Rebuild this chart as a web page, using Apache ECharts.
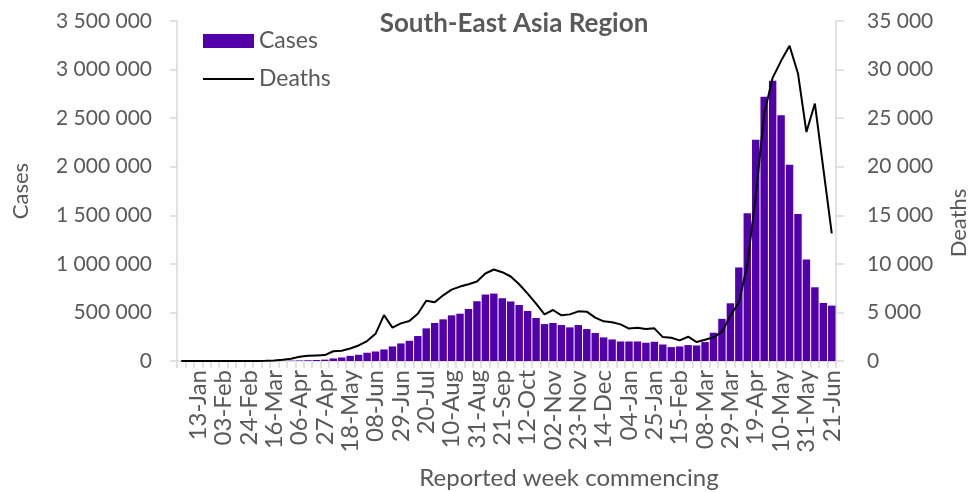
<!DOCTYPE html>
<html>
<head>
<meta charset="utf-8">
<script src="https://cdn.jsdelivr.net/npm/echarts@6/dist/echarts.min.js"></script>
<style>
html, body { margin: 0; padding: 0; background: #fff; }
#chart { width: 978px; height: 492px; }
</style>
</head>
<body>
<div id="chart"></div>
<script>
var weeks = ['30-Dec','06-Jan','13-Jan','20-Jan','27-Jan','03-Feb','10-Feb','17-Feb','24-Feb','02-Mar',
	'09-Mar','16-Mar','23-Mar','30-Mar','06-Apr','13-Apr','20-Apr','27-Apr','04-May','11-May',
	'18-May','25-May','01-Jun','08-Jun','15-Jun','22-Jun','29-Jun','06-Jul','13-Jul','20-Jul',
	'27-Jul','03-Aug','10-Aug','17-Aug','24-Aug','31-Aug','07-Sep','14-Sep','21-Sep','28-Sep',
	'05-Oct','12-Oct','19-Oct','26-Oct','02-Nov','09-Nov','16-Nov','23-Nov','30-Nov','07-Dec',
	'14-Dec','21-Dec','28-Dec','04-Jan','11-Jan','18-Jan','25-Jan','01-Feb','08-Feb','15-Feb',
	'22-Feb','01-Mar','08-Mar','15-Mar','22-Mar','29-Mar','05-Apr','12-Apr','19-Apr','26-Apr',
	'03-May','10-May','17-May','24-May','31-May','07-Jun','14-Jun','21-Jun'];

// weekly cases
var cases = [0,0,0,0,0,0,0,0,0,100,
	300,1000,2000,3000,5000,7000,10000,14000,26000,36000,
	53000,64000,85000,98000,119000,150000,181000,208000,257000,336000,
	391000,429000,470000,487000,536000,615000,684000,694000,646000,613000,
	577000,515000,443000,380000,391000,370000,346000,370000,329000,288000,
	243000,222000,201000,201000,201000,188000,198000,170000,143000,150000,
	164000,160000,195000,291000,434000,594000,963000,1520000,2278000,2719000,
	2884000,2529000,2020000,1513000,1045000,759000,597000,570000];

// weekly deaths
var deaths = [0,0,0,0,0,0,0,0,0,5,
	20,60,130,240,440,530,570,610,1000,1050,
	1290,1600,2050,2800,4720,3430,3870,4120,4870,6210,
	6040,6760,7350,7660,7900,8180,9010,9420,9140,8700,
	7900,6940,5910,4800,5250,4700,4800,5110,5080,4460,
	4080,3980,3770,3340,3430,3290,3360,2460,2390,2120,
	2500,1950,2190,2440,2990,4700,6000,9900,17000,25460,
	29150,30900,32450,29600,23570,26500,19800,13140];

var txt = '#595959';
var fnt = 'Lato';

function spaced(v) {
	return String(v).replace(/\B(?=(\d{3})+(?!\d))/g, ' ');
}

var chart = echarts.init(document.getElementById('chart'));

var option = {
	animation: false,
	textStyle: { fontFamily: fnt },
	title: {
		text: 'South-East Asia Region',
		left: 509,
		textAlign: 'center',
		top: 6,
		textStyle: { color: txt, fontSize: 26, fontWeight: 'bold', fontFamily: fnt }
	},
	legend: {
		orient: 'vertical',
		left: 203,
		top: 28,
		padding: 0,
		itemWidth: 51,
		itemHeight: 14,
		itemGap: 12,
		textStyle: { color: txt, fontSize: 23, fontFamily: fnt, lineHeight: 26 },
		data: [
			{ name: 'Cases', icon: 'rect' },
			{ name: 'Deaths', icon: 'path://M0,0L51,0L51,2.2L0,2.2Z' }
		]
	},
	grid: {
		left: 177,
		right: 142,
		top: 21,
		bottom: 131
	},
	xAxis: {
		type: 'category',
		data: weeks,
		axisLine: { lineStyle: { color: '#d9d9d9', width: 1.5 } },
		axisTick: { show: true, interval: 0, length: 7, lineStyle: { color: '#d9d9d9', width: 1.5 } },
		axisLabel: {
			rotate: 90,
			interval: function (idx) { return idx % 3 === 2; },
			color: txt,
			fontSize: 24,
			fontFamily: fnt,
			margin: 9
		}
	},
	yAxis: [{
		type: 'value',
		min: 0,
		max: 3500000,
		interval: 500000,
		name: 'Cases',
		nameLocation: 'middle',
		nameGap: 145,
		nameTextStyle: { color: txt, fontSize: 22, fontFamily: fnt },
		splitLine: { show: false },
		axisLine: { show: true, lineStyle: { color: '#d9d9d9', width: 1.5 } },
		axisTick: { show: true, length: 7, lineStyle: { color: '#d9d9d9', width: 1.5 } },
		axisLabel: { color: txt, fontSize: 21, fontFamily: fnt, margin: 25, formatter: spaced }
	}, {
		type: 'value',
		min: 0,
		max: 35000,
		interval: 5000,
		name: 'Deaths',
		nameLocation: 'middle',
		nameGap: 112,
		nameRotate: 90,
		nameTextStyle: { color: txt, fontSize: 22, fontFamily: fnt, padding: [0, 64, 0, 0] },
		splitLine: { show: false },
		axisLine: { show: true, lineStyle: { color: '#d9d9d9', width: 1.5 } },
		axisTick: { show: true, length: 8, lineStyle: { color: '#d9d9d9', width: 1.5 } },
		axisLabel: { color: txt, fontSize: 21, fontFamily: fnt, margin: 31, formatter: spaced }
	}],
	graphic: [{
		type: 'text',
		x: 569,
		y: 478,
		style: {
			text: 'Reported week commencing',
			fill: txt,
			font: '24px ' + fnt,
			align: 'center',
			verticalAlign: 'middle'
		}
	}],
	series: [{
		name: 'Cases',
		type: 'bar',
		yAxisIndex: 0,
		barCategoryGap: '12%',
		itemStyle: { color: '#5200aa' },
		data: cases
	}, {
		name: 'Deaths',
		type: 'line',
		yAxisIndex: 1,
		symbol: 'none',
		lineStyle: { color: '#000', width: 2 },
		itemStyle: { color: '#000' },
		data: deaths
	}]
};

chart.setOption(option);
</script>
</body>
</html>
